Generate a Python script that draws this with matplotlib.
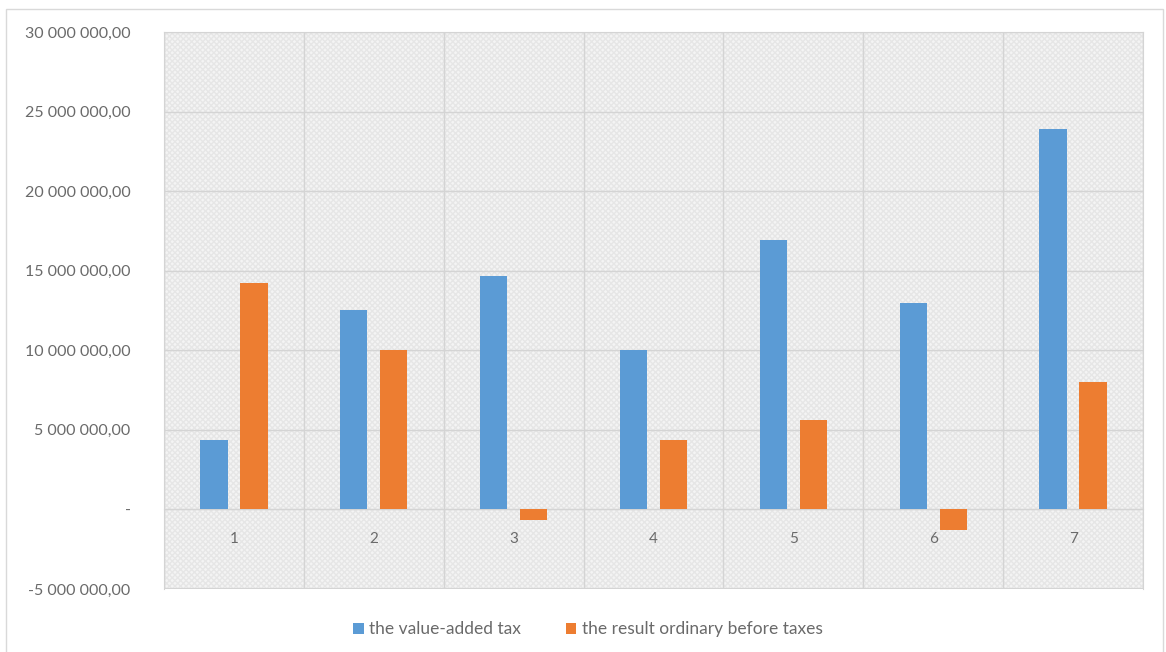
import numpy as np
import matplotlib
matplotlib.use("Agg")
import matplotlib.pyplot as plt
from matplotlib.patches import Rectangle
from matplotlib.ticker import FuncFormatter, MultipleLocator

categories = ["1", "2", "3", "4", "5", "6", "7"]
vat = [4350000, 12550000, 14650000, 10040000, 16950000, 12970000, 23900000]
result_before_tax = [14230000, 10040000, -670000, 4350000, 5650000, -1300000, 8000000]
series_names = ["the value-added tax", "the result ordinary before taxes"]

plt.rcParams['font.family'] = ['Lato', 'DejaVu Sans']
text_col = '#6a6a6a'
grid_col = '#d4d4d4'


def fmt(v, pos):
    if abs(v) < 1:
        return '-'
    s = f"{abs(v):,.2f}".replace(',', ' ').replace('.', ',')
    return ('-' if v < 0 else '') + s


fig = plt.figure(figsize=(11.66, 6.52), dpi=100)
# outer chart border
fig.patches.append(Rectangle((6 / 1166, -0.01), 1157 / 1166, 1 - 9 / 652 + 0.01,
                             transform=fig.transFigure, fill=False,
                             edgecolor='#d9d9d9', linewidth=1.0))

ax = fig.add_axes([164 / 1166, 1 - 589 / 652, (1143 - 164) / 1166, (589 - 32) / 652])
ax.set_facecolor('#f4f4f4')
ax.add_patch(Rectangle((0, 0), 1, 1, transform=ax.transAxes, fill=False,
                       hatch='xxxxxx', edgecolor='#e6e6e6', linewidth=0, zorder=0))

x = np.arange(len(categories))
w = 0.196
ax.bar(x - 0.143, vat, w, color='#5b9bd5', label=series_names[0], zorder=3)
ax.bar(x + 0.143, result_before_tax, w, color='#ed7d31', label=series_names[1], zorder=3)

ax.set_xlim(-0.5, len(categories) - 0.5)
ax.set_ylim(-5000000, 30000000)
ax.yaxis.set_major_locator(MultipleLocator(5000000))
ax.yaxis.set_major_formatter(FuncFormatter(fmt))
ax.set_xticks(x)
ax.set_xticklabels(categories)
ax.xaxis.set_minor_locator(MultipleLocator(1, offset=0.5))

ax.grid(axis='y', which='major', color=grid_col, linewidth=1.0, zorder=1)
ax.grid(axis='x', which='minor', color=grid_col, linewidth=1.0, zorder=1)
ax.set_axisbelow(True)

ax.spines['bottom'].set_position(('data', 0))
ax.spines['bottom'].set_color(grid_col)
for s in ['top', 'left', 'right']:
    ax.spines[s].set_color(grid_col)
ax.axhline(-5000000, color=grid_col, linewidth=1.5, zorder=2)

ax.tick_params(axis='x', which='both', length=0, pad=16, labelsize=11, labelcolor=text_col)
ax.tick_params(axis='y', length=0, pad=24, labelsize=11.5, labelcolor=text_col)

fig.legend(loc='center', bbox_to_anchor=(588 / 1166, 0.035), ncol=2, frameon=False,
           fontsize=12.5, labelcolor=text_col, handlelength=0.6, handleheight=0.6,
           handletextpad=0.3, columnspacing=2.6)

fig.savefig('out.png', dpi=100)
